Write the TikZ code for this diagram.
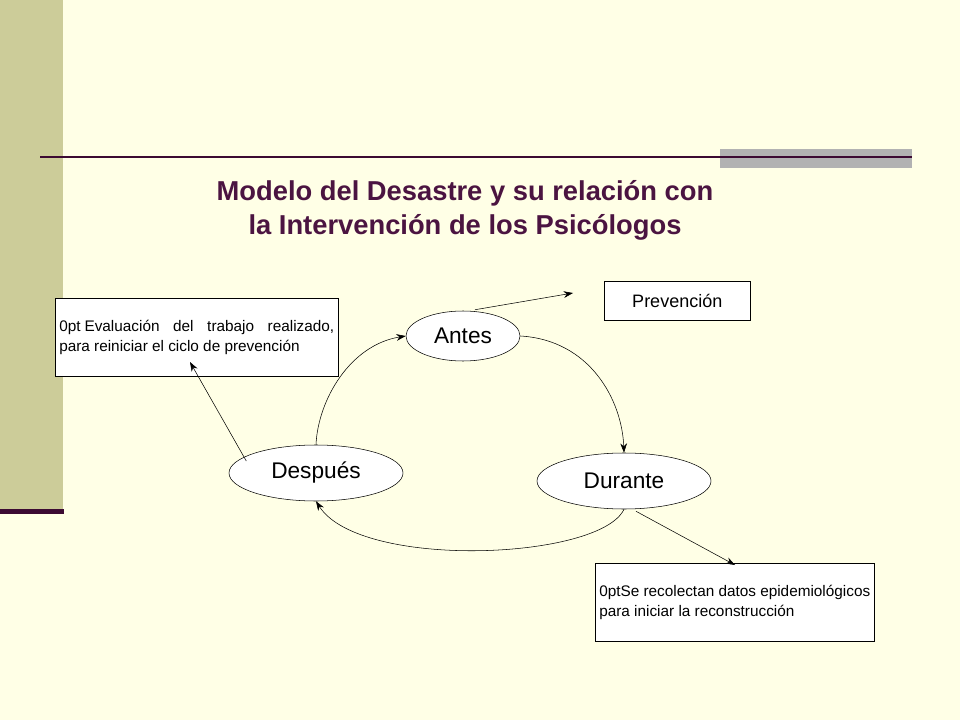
\documentclass[tikz,border=0pt]{standalone}
\usepackage{fontspec}
\setmainfont{Liberation Sans}
\begin{document}
\begin{tikzpicture}[x=0.75pt,y=-0.75pt,
  ell/.style={draw,ellipse,inner sep=0pt},
  txtbox/.style={draw,fill=white,align=justify,font=\fontsize{11.5}{15}\selectfont\hyphenpenalty=10000\exhyphenpenalty=10000,inner sep=3pt,anchor=north west},
  arr/.style={-{Stealth[length=7pt,width=5pt]}}]
\usetikzlibrary{shapes.geometric,arrows.meta}
\definecolor{bg}{RGB}{255,255,230}
\definecolor{bar}{RGB}{204,204,153}
\definecolor{dk}{RGB}{60,10,50}
\definecolor{ttl}{RGB}{75,20,65}
\fill[bg] (0,0) rectangle (960,720);
\useasboundingbox (0,0) rectangle (960,720);
\fill[bar] (0,0) rectangle (63,510);
\fill[dk] (0,509) rectangle (64,514);
\fill[gray!60] (720,149) rectangle (912,168);
\fill[dk] (40,156) rectangle (912,158.5);
\node[font=\bfseries\fontsize{20.5}{25.5}\selectfont,text=ttl,align=center] (t) at (465,210) {Modelo del Desastre y su relación con\\la Intervención de los Psicólogos};
\node[ell,fill=white,minimum width=114*0.75pt,minimum height=50*0.75pt,font=\fontsize{17}{20}\selectfont] (antes) at (463,336) {Antes};
\node[ell,fill=white,minimum width=174*0.75pt,minimum height=56*0.75pt,font=\fontsize{17}{20}\selectfont] (dur) at (624,481) {Durante};
\node[ell,fill=white,minimum width=174*0.75pt,minimum height=56*0.75pt,font=\fontsize{17}{20}\selectfont] (desp) at (316,473) {Después};
\node[draw,fill=white,minimum width=146*0.75pt,minimum height=39*0.75pt,font=\fontsize{13.5}{15}\selectfont,anchor=north west] (prev) at (604,281) {Prevención};
\node[txtbox,text width=275*0.75pt,minimum height=78*0.75pt] (eval) at (55,298) {\hspace*{3pt}Evaluación del trabajo realizado, para reiniciar el ciclo de prevención};
\node[txtbox,text width=271*0.75pt,minimum height=78*0.75pt] (rec) at (595,563) {Se recolectan datos epidemiológicos para iniciar la reconstrucción};
\coordinate (pv) at (573,293);
\draw[arr] (antes.north) ++(12,-1) -- (pv);
\draw[arr] (antes.east) .. controls (590,340) and (622,400) .. (dur.north);
\draw[arr] (dur.south) .. controls (600,560) and (360,570) .. (desp.south);
\draw[arr] (desp.north) .. controls (318,400) and (350,345) .. (antes.west);
\draw[arr] (desp.north west) ++(-8,8) -- (190,362);
\draw[arr] (dur.south) ++(12,2) -- (735,565);
\end{tikzpicture}
\end{document}
